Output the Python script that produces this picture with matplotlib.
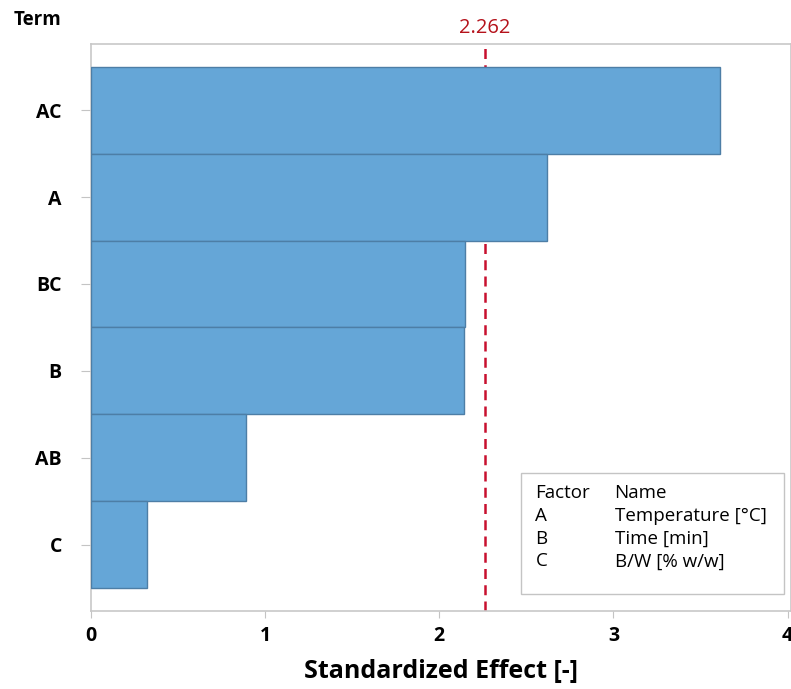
import matplotlib.pyplot as plt
from matplotlib.patches import Rectangle

plt.rcParams['font.family'] = ['Open Sans', 'DejaVu Sans']

terms = ['AC', 'A', 'BC', 'B', 'AB', 'C']
effects = [3.61, 2.62, 2.15, 2.14, 0.89, 0.32]
critical = 2.262

factors = ['A', 'B', 'C']
factor_names = ['Temperature [°C]', 'Time [min]', 'B/W [% w/w]']

fig = plt.figure(figsize=(7.91, 6.89), dpi=100)
ax = fig.add_axes([0.115, 0.1135, 0.885, 0.8225])

ypos = list(range(len(terms)))[::-1]
ax.barh(ypos, effects, height=1.0, color='#65a6d7', edgecolor='#4d7ea6',
        linewidth=1.0, zorder=3)
ax.axvline(critical, color='#c8102e', linestyle=(0, (4, 2.5)), linewidth=1.8, zorder=2)
ax.text(critical, 1.010, f'{critical:.3f}', transform=ax.get_xaxis_transform(),
        ha='center', va='bottom', color='#b5121b', fontsize=14.5)

ax.set_xlim(0, 4.02)
ax.set_ylim(-0.76, 5.76)
ax.set_yticks(ypos)
ax.set_yticklabels(terms, fontsize=14, fontweight='bold')
ax.set_xticks([0, 1, 2, 3, 4])
ax.set_xticklabels(['0', '1', '2', '3', '4'], fontsize=14, fontweight='bold')
ax.tick_params(axis='y', length=7, color='#c4c4c4', pad=14)
ax.tick_params(axis='x', length=5, color='#c4c4c4', pad=6)
for s in ax.spines.values():
    s.set_color('#c8c8c8')
    s.set_linewidth(1.2)

ax.set_xlabel('Standardized Effect [-]', fontsize=18, fontweight='bold', labelpad=9)
fig.text(14 / 791, 1 - 20 / 689, 'Term', fontsize=13.5, fontweight='bold',
         ha='left', va='center')

# factor table box
ax.add_patch(Rectangle((0.615, 0.030), 0.375, 0.214, transform=ax.transAxes,
                       facecolor='white', edgecolor='#c4c4c4', linewidth=1.0, zorder=5))
rows_y = [0.2085, 0.168, 0.1275, 0.087]
ax.text(0.635, rows_y[0], 'Factor', transform=ax.transAxes, fontsize=13.5, va='center', zorder=6)
ax.text(0.748, rows_y[0], 'Name', transform=ax.transAxes, fontsize=13.5, va='center', zorder=6)
for f, n, y in zip(factors, factor_names, rows_y[1:]):
    ax.text(0.635, y, f, transform=ax.transAxes, fontsize=13.5, va='center', zorder=6)
    ax.text(0.748, y, n, transform=ax.transAxes, fontsize=13.5, va='center', zorder=6)

fig.savefig('out.png', dpi=100)
